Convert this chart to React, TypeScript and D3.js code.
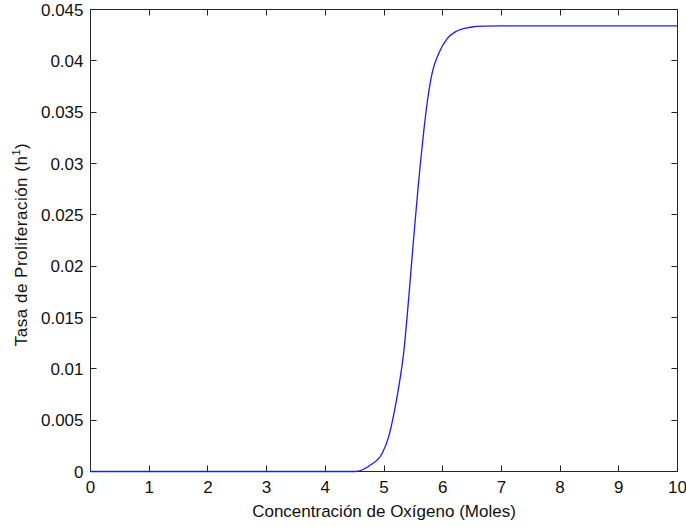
import React, { useEffect, useRef } from "react";
import * as d3 from "d3";

const oxygenValues = [0, 1, 2, 3, 4, 4.51, 4.77, 4.97, 5.08, 5.17, 5.25, 5.34, 5.4, 5.45, 5.49, 5.54, 5.58, 5.62, 5.68, 5.75, 5.82, 5.93, 6.08, 6.22, 6.47, 6.7, 7, 8, 9, 10];
const rateValues = [0, 0, 0, 0, 0, 0, 0.00063, 0.00177, 0.00339, 0.00567, 0.0082, 0.0118, 0.0155, 0.0189, 0.0217, 0.025, 0.0276, 0.03, 0.0333, 0.0365, 0.0388, 0.0407, 0.04219, 0.04284, 0.04327, 0.04339, 0.0434, 0.0434, 0.0434, 0.0434];
const xTicks = [0, 1, 2, 3, 4, 5, 6, 7, 8, 9, 10];
const yTicks = [0, 0.005, 0.01, 0.015, 0.02, 0.025, 0.03, 0.035, 0.04, 0.045];
const xLabel = "Concentración de Oxígeno (Moles)";
const yLabel = "Tasa de Proliferación (h";
const ySup = "1";

const W = 686, H = 527;
const M = { left: 90.5, right: 8.5, top: 9.5, bottom: 55.5 };

export default function App() {
  const ref = useRef<SVGSVGElement>(null);
  useEffect(() => {
    document.body.style.margin = "0";
    const svg = d3.select(ref.current);
    svg.selectAll("*").remove();
    const x = d3.scaleLinear().domain([0, 10]).range([M.left, W - M.right]);
    const y = d3.scaleLinear().domain([0, 0.045]).range([H - M.bottom, M.top]);
    const font = "'Liberation Sans', Arial, sans-serif";
    const axisColor = "#262626";
    const fmt = d3.format(".3~f");
    const tl = 6;

    const data = oxygenValues.map((v, i) => [v, rateValues[i]] as [number, number]);
    const line = d3.line<[number, number]>().x(d => x(d[0])).y(d => y(d[1])).curve(d3.curveMonotoneX);

    const g = svg.append("g").attr("stroke", axisColor).attr("stroke-width", 1);
    const x0 = x(0), x1 = x(10), y0 = y(0), y1 = y(0.045);
    g.append("rect").attr("x", x0).attr("y", y1).attr("width", x1 - x0).attr("height", y0 - y1).attr("fill", "none");
    xTicks.forEach(t => {
      const px = Math.round(x(t) - 0.5) + 0.5;
      g.append("line").attr("x1", px).attr("x2", px).attr("y1", y0).attr("y2", y0 - tl);
      g.append("line").attr("x1", px).attr("x2", px).attr("y1", y1).attr("y2", y1 + tl);
    });
    yTicks.forEach(t => {
      const py = Math.round(y(t) - 0.5) + 0.5;
      g.append("line").attr("x1", x0).attr("x2", x0 + tl).attr("y1", py).attr("y2", py);
      g.append("line").attr("x1", x1).attr("x2", x1 - tl).attr("y1", py).attr("y2", py);
    });
    svg.append("path").attr("d", line(data)).attr("fill", "none").attr("stroke", "#1a1aff").attr("stroke-width", 1.3);

    const tg = svg.append("g").attr("font-family", font).attr("font-size", 17).attr("fill", "#111");
    xTicks.forEach(t => {
      tg.append("text").attr("x", x(t)).attr("y", y0 + 21).attr("text-anchor", "middle").text(String(t));
    });
    yTicks.forEach(t => {
      tg.append("text").attr("x", x0 - 7).attr("y", y(t)).attr("dy", "0.36em").attr("text-anchor", "end").text(fmt(t));
    });
    tg.append("text").attr("x", (x0 + x1) / 2).attr("y", 517).attr("text-anchor", "middle").text(xLabel);
    const yl = tg.append("text").attr("transform", `translate(27,${(y0 + y1) / 2 + 4}) rotate(-90)`).attr("text-anchor", "middle").attr("letter-spacing", 0.5);
    yl.append("tspan").text(yLabel);
    yl.append("tspan").attr("font-size", 11).attr("dy", -7).text(ySup);
    yl.append("tspan").attr("dy", 7).text(")");
  }, []);
  return <svg ref={ref} width={W} height={H} style={{ display: "block", background: "#fff" }} />;
}
